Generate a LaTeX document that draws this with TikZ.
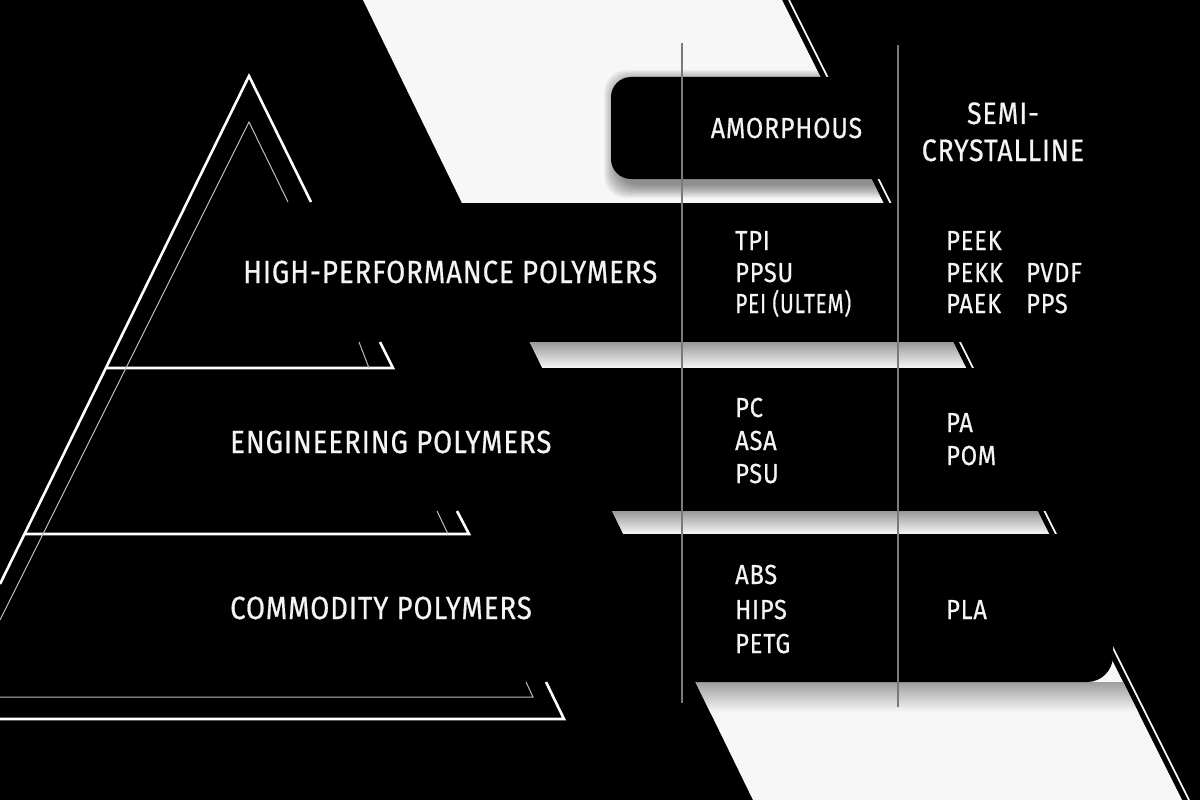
\documentclass[tikz,border=0pt]{standalone}
\usepackage{fontspec}
\setmainfont{Fira Sans}[FakeStretch=0.86,LetterSpace=3,FakeBold=0.6]
\definecolor{bandw}{HTML}{F7F7F7}
\definecolor{vline}{HTML}{7A7A7A}
\definecolor{txt}{HTML}{F4F4F4}
\definecolor{thinw}{HTML}{BDBDBD}
\begin{document}
\begin{tikzpicture}[x=1pt,y=-1pt,
  cat/.style={text=txt,inner sep=0pt,anchor=base west,font=\fontsize{32}{32}\selectfont},
  colhead/.style={text=txt,inner sep=0pt,anchor=base,font=\fontsize{29}{29}\selectfont},
  colhead2/.style={text=txt,inner sep=0pt,anchor=base,font=\fontsize{31}{31}\selectfont},
  item/.style={text=txt,inner sep=0pt,anchor=base west,font=\fontsize{27.5}{27.5}\selectfont},
  thick line/.style={draw=white,line width=2.6pt,line join=miter},
  thin line/.style={draw=thinw,line width=1pt},
  gapshade/.style={top color=black!40,bottom color=bandw},
  colrule/.style={draw=vline,line width=1.5pt}]
\useasboundingbox (0,0) rectangle (1200,800);
\fill[black] (0,0) rectangle (1200,800);
% white diagonal band
\coordinate (b1) at (363,0);
\coordinate (b2) at (782,0);
\coordinate (b3) at (1182,800);
\coordinate (b4) at (753,800);
\fill[bandw] (b1) -- (b2) -- (b3) -- (b4) -- cycle;
\coordinate (t1) at (789,0);
\coordinate (t2) at (1189,800);
\draw[white,line width=1.6pt] (t1) -- (t2);
% shadows inside the band
\begin{scope}
  \clip (b1) -- (b2) -- (b3) -- (b4) -- cycle;
  \foreach \i in {0,...,13}
    \fill[black,opacity=0.035,rounded corners=22pt] (617-\i,83-\i) rectangle (1260,185+\i);
  \shade[gapshade] (0,342) rectangle (1200,368);
  \shade[gapshade] (0,511) rectangle (1200,534);
  \shade[top color=black!38,bottom color=bandw] (0,682) rectangle (1200,712);
\end{scope}
% black table parts
\fill[black,rounded corners=20pt] (611,77) rectangle (1260,179);
\fill[black] (0,203) rectangle (1200,342);
\fill[black] (0,368) rectangle (1200,511);
\fill[black] (0,534) -- (1113,534) -- (1113,656)
   .. controls (1113,670.4) and (1101.4,682) .. (1087,682) -- (0,682) -- cycle;
% pyramid outlines
\coordinate (oa) at (249,76);
\coordinate (ia) at (249,122);
\draw[thick line] (0,584) -- (oa) -- (311,202);
\draw[thick line] (380,342) -- (393,368) -- (106,368);
\draw[thick line] (457,511) -- (469,534) -- (24,534);
\draw[thick line] (546,682) -- (564,719) -- (-5,719);
\draw[thin line] (0,620) -- (ia) -- (288,202);
\draw[thin line] (359,342) -- (369,368);
\draw[thin line] (437,511) -- (448,534);
\draw[thin line] (526,682) -- (533,697) -- (0,697);
% column rules
\draw[colrule] (682,43) -- (682,703);
\draw[colrule] (898,45) -- (898,707);
% column headers
\node[colhead] (amor) at (786.5,138) {AMORPHOUS};
\node[colhead2] (semi) at (1003,124) {SEMI-};
\node[colhead2] (crys) at (1003,161) {CRYSTALLINE};
% category labels
\node[cat] (hp) at (243,283) {HIGH-PERFORMANCE POLYMERS};
\node[cat] (eng) at (230,453) {ENGINEERING POLYMERS};
\node[cat] (com) at (230,619) {COMMODITY POLYMERS};
% items
\node[item] (tpi) at (735,250) {TPI};
\node[item] (ppsu) at (735,282) {PPSU};
\node[item] (pei) at (735,313) {\scalebox{0.885}[1]{PEI (ULTEM)}};
\node[item] (peek) at (946,250) {PEEK};
\node[item] (pekk) at (946,282) {PEKK};
\node[item] (paek) at (946,313) {PAEK};
\node[item] (pvdf) at (1026,282) {PVDF};
\node[item] (pps) at (1026,313) {PPS};
\node[item] (pc) at (735,417) {PC};
\node[item] (asa) at (735,450) {ASA};
\node[item] (psu) at (735,483) {PSU};
\node[item] (pa) at (946,432) {PA};
\node[item] (pom) at (946,465) {POM};
\node[item] (abs) at (735,584) {ABS};
\node[item] (hips) at (735,619) {HIPS};
\node[item] (petg) at (735,653) {PETG};
\node[item] (pla) at (946,619) {PLA};
\end{tikzpicture}
\end{document}
